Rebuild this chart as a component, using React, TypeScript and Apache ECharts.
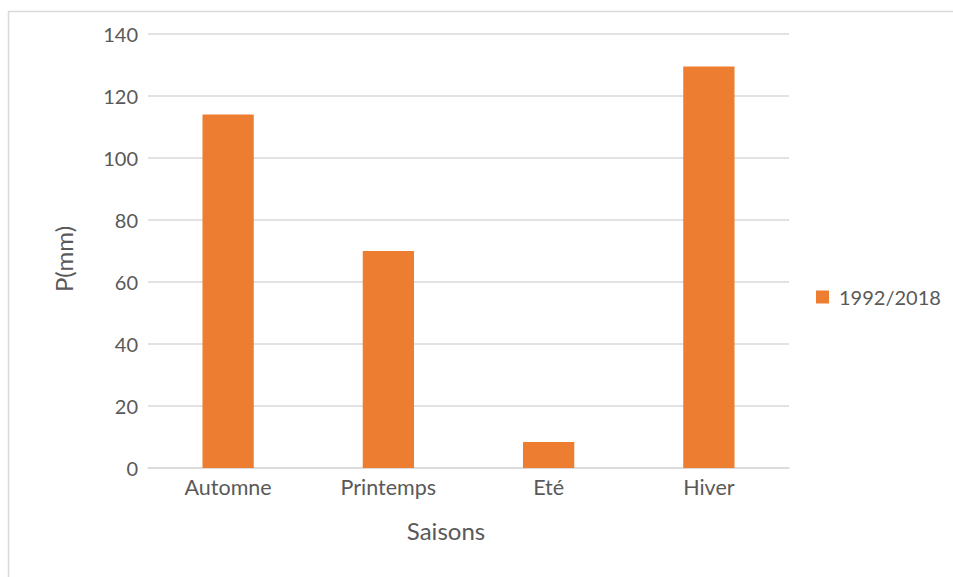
import React, { useEffect, useRef } from "react";
import * as echarts from "echarts";

const seasons = ["Automne", "Printemps", "Eté", "Hiver"];
const precipitation = [114, 70, 8.4, 129.5];
const seriesName = "1992/2018";
const yTitle = "P(mm)";
const xTitle = "Saisons";

const TEXT = "#595959";
const GRID = "#d9d9d9";
const FONT = "Lato, 'Open Sans', sans-serif";

export default function App() {
  const ref = useRef<HTMLDivElement>(null);

  useEffect(() => {
    document.body.style.margin = "0";
    if (!ref.current) return;
    const chart = echarts.init(ref.current, null, { renderer: "svg" });
    chart.setOption({
      animation: false,
      backgroundColor: "#ffffff",
      textStyle: { fontFamily: FONT },
      grid: { left: 148, right: 164, top: 34, bottom: 109, containLabel: false },
      legend: {
        data: [seriesName],
        left: 816,
        top: 287,
        orient: "vertical",
        icon: "rect",
        itemWidth: 13,
        itemHeight: 13,
        itemGap: 8,
        padding: 0,
        textStyle: { color: TEXT, fontSize: 20, fontFamily: FONT, padding: [0, 0, 0, 5] },
      },
      xAxis: {
        type: "category",
        data: seasons,
        axisLine: { show: true, lineStyle: { color: GRID, width: 1.5 } },
        axisTick: { show: false },
        axisLabel: { color: TEXT, fontSize: 21.5, margin: 8, fontFamily: FONT },
      },
      yAxis: {
        type: "value",
        min: 0,
        max: 140,
        interval: 20,
        axisLine: { show: false },
        axisTick: { show: false },
        axisLabel: { color: TEXT, fontSize: 20, margin: 10, fontFamily: FONT },
        splitLine: { show: true, lineStyle: { color: GRID, width: 1.5 } },
      },
      series: [
        {
          name: seriesName,
          type: "bar",
          data: precipitation,
          barWidth: "32%",
          itemStyle: { color: "#ED7D31" },
        },
      ],
      graphic: [
        {
          type: "rect",
          shape: { x: 8.5, y: 11.5, width: 1000, height: 700 },
          style: { fill: "none", stroke: GRID, lineWidth: 1.5 },
          silent: true,
        },
        {
          type: "text",
          x: 63,
          y: 259,
          rotation: Math.PI / 2,
          style: {
            text: yTitle,
            fill: TEXT,
            fontSize: 24,
            fontFamily: FONT,
            align: "center",
            verticalAlign: "middle",
          },
        },
        {
          type: "text",
          x: 446,
          y: 530,
          style: {
            text: xTitle,
            fill: TEXT,
            fontSize: 24,
            fontFamily: FONT,
            align: "center",
            verticalAlign: "middle",
          },
        },
      ],
    });
    return () => chart.dispose();
  }, []);

  return <div ref={ref} style={{ width: 953, height: 577 }} />;
}
